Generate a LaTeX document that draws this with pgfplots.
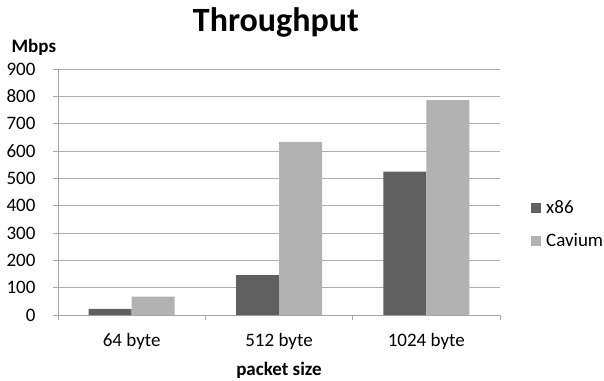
\documentclass[border=0pt]{standalone}
\usepackage{pgfplots}
\pgfplotsset{compat=1.18}
\usepackage{fontspec}
\setmainfont{Carlito}
\definecolor{cxe}{HTML}{606060}
\definecolor{cav}{HTML}{B2B2B2}
\definecolor{gridc}{HTML}{ADADAD}
\definecolor{axc}{HTML}{A6A6A6}
\begin{document}
\begin{tikzpicture}
\path[use as bounding box] (0,0) rectangle (604pt,380pt);
\begin{axis}[
  at={(58pt,65pt)}, anchor=south west,
  scale only axis, width=442pt, height=246pt,
  xmin=-0.5, xmax=2.5, ymin=0, ymax=900,
  ybar=0pt, bar width=43pt,
  axis x line*=bottom, axis y line*=left,
  axis line style={axc, line width=0.8pt},
  ytick={0,100,...,900},
  ymajorgrids, grid style={gridc, line width=0.9pt},
  tick align=outside, major tick length=5pt,
  tick style={axc, line width=0.8pt},
  xtick={-0.5,0.5,1.5,2.5}, xticklabels={},
  extra x ticks={0,1,2},
  extra x tick labels={64 byte,512 byte,1024 byte},
  extra x tick style={major tick length=0pt, grid=none,
    xticklabel style={anchor=base, yshift=-31pt}},
  /pgf/number format/assume math mode=true,
  ticklabel style={font=\fontsize{19}{22}\selectfont, text=black},
  yticklabel style={xshift=-14pt},
  title={\textbf{Throughput}},
  title style={font=\fontsize{34}{40}\selectfont, at={(axis description cs:0.493,1.13)}, anchor=base},
  xlabel={\textbf{packet size}},
  xlabel style={font=\fontsize{19}{22}\selectfont, at={(axis description cs:0.5,-0.244)}, anchor=base},
  ylabel={\textbf{Mbps}},
  ylabel style={font=\fontsize{19}{22}\selectfont, rotate=-90, at={(axis description cs:-0.113,1.069)}, anchor=base west},
  legend style={at={(axis description cs:1.07,0.368)}, anchor=west, draw=none, fill=none,
    font=\fontsize{19}{22}\selectfont, row sep=19pt, inner sep=0pt,
    nodes={inner xsep=5pt, inner ysep=0pt}},
  legend cell align=left,
  legend image code/.code={\path[#1, draw=none] (0pt,-5pt) rectangle (10pt,5pt);},
]
\addplot[fill=cxe, draw=none] coordinates {(0,22) (1,146) (2,525)};
\addplot[fill=cav, draw=none] coordinates {(0,67) (1,633) (2,786)};
\legend{x86,Cavium}
\end{axis}
\end{tikzpicture}
\end{document}
